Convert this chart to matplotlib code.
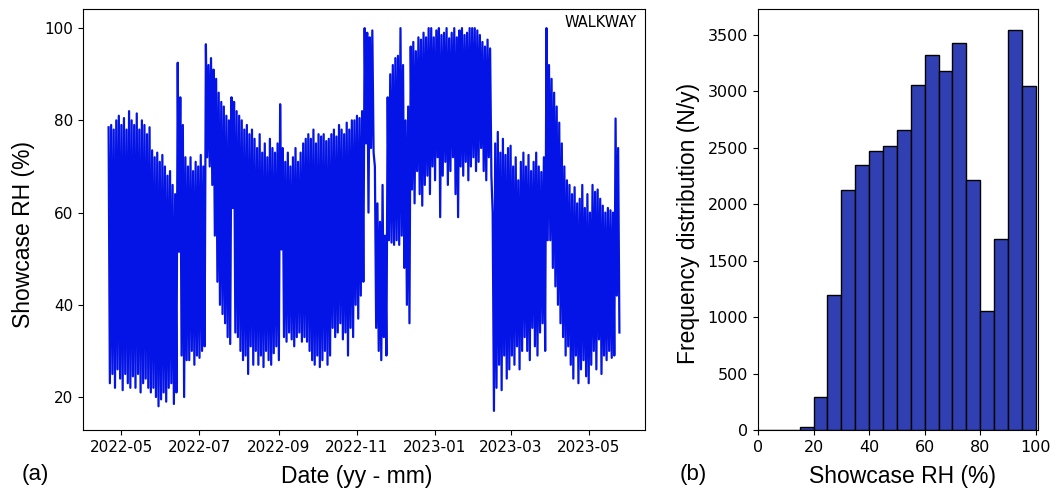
import numpy as np
import matplotlib
matplotlib.use("Agg")
import matplotlib.pyplot as plt
import matplotlib.dates as mdates

# showcase RH, every 2 days from 2022-04-21 (daily high / daily low)
start = np.datetime64("2022-04-21")
rh_hi = [78.5, 79, 78, 80, 81, 79, 80.5, 78, 82, 80, 79, 81.5, 78, 80, 79, 77, 78.5,
         73.5, 72, 73, 71, 72.5,
         70, 68, 69, 66, 64,
         92.5,
         85, 79, 72,
         70, 72, 69, 71, 70, 72.5, 70,
         96.5,
         92, 93.5, 91, 89,
         86, 84, 83, 81, 80,
         85, 84,
         82, 81, 80, 78, 79, 77, 78,
         76, 74, 77, 73, 75, 72, 76, 74, 73, 75,
         83.5,
         74, 71, 73, 70, 72, 74, 71, 73, 75, 76,
         77, 76, 78, 75, 77, 76.5, 77, 75.5, 76,
         77, 78, 76.5, 79, 78, 77, 79.5, 78, 80,
         80, 81, 80.5, 82,
         100, 99, 98, 99.5,
         70, 62, 58, 66, 55,
         85, 90, 92, 93.5, 94, 100, 92,
         80, 83,
         96, 97, 95, 98, 97.5, 99, 98, 100,
         100, 98, 99.5, 100, 98.5, 99, 100, 97.8, 99, 100, 98, 99.5, 100, 98.5, 99,
         100, 100, 100, 99.5,
         98.5, 97, 96, 97.5, 95.6,
         60,
         75, 77.5, 73, 76, 72.5, 74,
         74.5, 70, 72, 67, 71,
         73, 70, 72.5, 69, 71, 73, 70, 68.8, 72,
         100,
         92, 89, 86, 83,
         79.5, 75, 70, 67,
         66, 64, 65.5, 62, 63, 66, 61, 64, 60,
         66, 64.5, 65, 63,
         61.5, 60, 61, 60.5, 60,
         80.4, 74]
rh_lo = [23, 25, 22, 26, 24, 21.5, 25, 23, 22, 24.5, 22, 25, 21, 23, 24, 22, 21,
         22, 20, 18, 19.5, 21,
         19, 22, 23, 18.5, 21,
         51.5,
         29, 20, 28,
         28, 30, 27, 29, 28.5, 30, 31,
         72,
         70, 66, 55, 45,
         40, 38, 36, 33, 31.5,
         61, 34,
         33, 30, 28, 29, 25, 31, 27,
         30, 27, 29, 26.5, 30, 28, 27, 29.5, 31, 28,
         52,
         33, 32, 34, 32.5, 31, 33, 34, 32, 33, 32,
         30, 28, 27, 29, 26.5, 28, 30, 27, 29,
         35, 33, 34, 36, 32.5, 34, 29, 35, 33,
         40, 37, 42, 45,
         75, 60, 74, 73,
         35, 30, 28, 33, 29,
         54, 53.5, 53, 54, 53, 55, 48,
         40, 36,
         65, 62, 69, 64, 61.5, 66, 68, 64,
         70, 67, 72, 59, 68, 71, 66, 69, 72, 64, 59, 70, 68, 71, 67,
         70, 72, 69, 71,
         74, 69, 67, 72, 68,
         17,
         22, 27, 21.5, 29, 24, 26,
         29, 27, 31, 26, 30,
         33, 30, 28, 35, 31, 29, 34, 36, 30,
         54,
         54, 48, 44, 40,
         36, 33, 29, 31,
         27, 24, 29, 23, 26, 28, 24.5, 23, 27,
         30, 26, 32.5, 25,
         29, 28, 30, 28.5, 29,
         42, 34]

# histogram of the same RH (counts per 5 % bin)
bin_edges = [0, 5, 10, 15, 20, 25, 30, 35, 40, 45, 50, 55, 60, 65, 70, 75, 80, 85, 90, 95, 100]
counts = [0, 0, 3, 30, 295, 1195, 2125, 2348, 2472, 2510, 2652, 3057, 3322, 3175, 3426,
          2215, 1054, 1689, 3544, 3042]

n = len(rh_hi)
t = start + np.arange(2 * n).astype("timedelta64[D]")
rh = np.empty(2 * n)
rh[0::2] = rh_hi
rh[1::2] = rh_lo

fig = plt.figure(figsize=(10.62, 4.91), dpi=100)
ax1 = fig.add_axes([0.0782, 0.1242, 0.5291, 0.8575])
ax2 = fig.add_axes([0.7137, 0.1242, 0.2637, 0.8575])

ax1.plot(t.astype("datetime64[ms]").astype(object), rh, color="#0514e6", lw=1.6)
ax1.xaxis.set_major_locator(mdates.MonthLocator(bymonth=[1, 3, 5, 7, 9, 11]))
ax1.xaxis.set_major_formatter(mdates.DateFormatter("%Y-%m"))
ax1.set_yticks([20, 40, 60, 80, 100])
ax1.tick_params(labelsize=11)
ax1.text(0.985, 0.985, "WALKWAY", transform=ax1.transAxes, ha="right", va="top", fontsize=10.5)
ax1.set_xlabel("Date (yy - mm)", fontsize=16.5, family="Liberation Sans")
ax1.set_ylabel("Showcase RH (%)", fontsize=16.5, family="Liberation Sans")
ax1.xaxis.set_label_coords(0.487, -0.083)
ax1.yaxis.set_label_coords(-0.0854, 0.464)

ax2.bar(bin_edges[:-1], counts, width=5, align="edge", color="#3040b2",
        edgecolor="black", linewidth=1.0)
ax2.set_xlim(0, 100.8)
ax2.set_ylim(0, 3727)
ax2.set_xticks([0, 20, 40, 60, 80, 100])
ax2.set_yticks(range(0, 3501, 500))
ax2.tick_params(labelsize=11.5)
ax2.set_xlabel("Showcase RH (%)", fontsize=16.5, family="Liberation Sans")
ax2.set_ylabel("Frequency distribution (N/y)", fontsize=16.5, family="Liberation Sans")
ax2.xaxis.set_label_coords(0.516, -0.083)
ax2.yaxis.set_label_coords(-0.207, 0.49)

fig.text(0.033, 0.033, "(a)", fontsize=16, family="Liberation Sans", ha="center", va="center")
fig.text(0.653, 0.033, "(b)", fontsize=16, family="Liberation Sans", ha="center", va="center")

fig.savefig("out.png", dpi=100)
